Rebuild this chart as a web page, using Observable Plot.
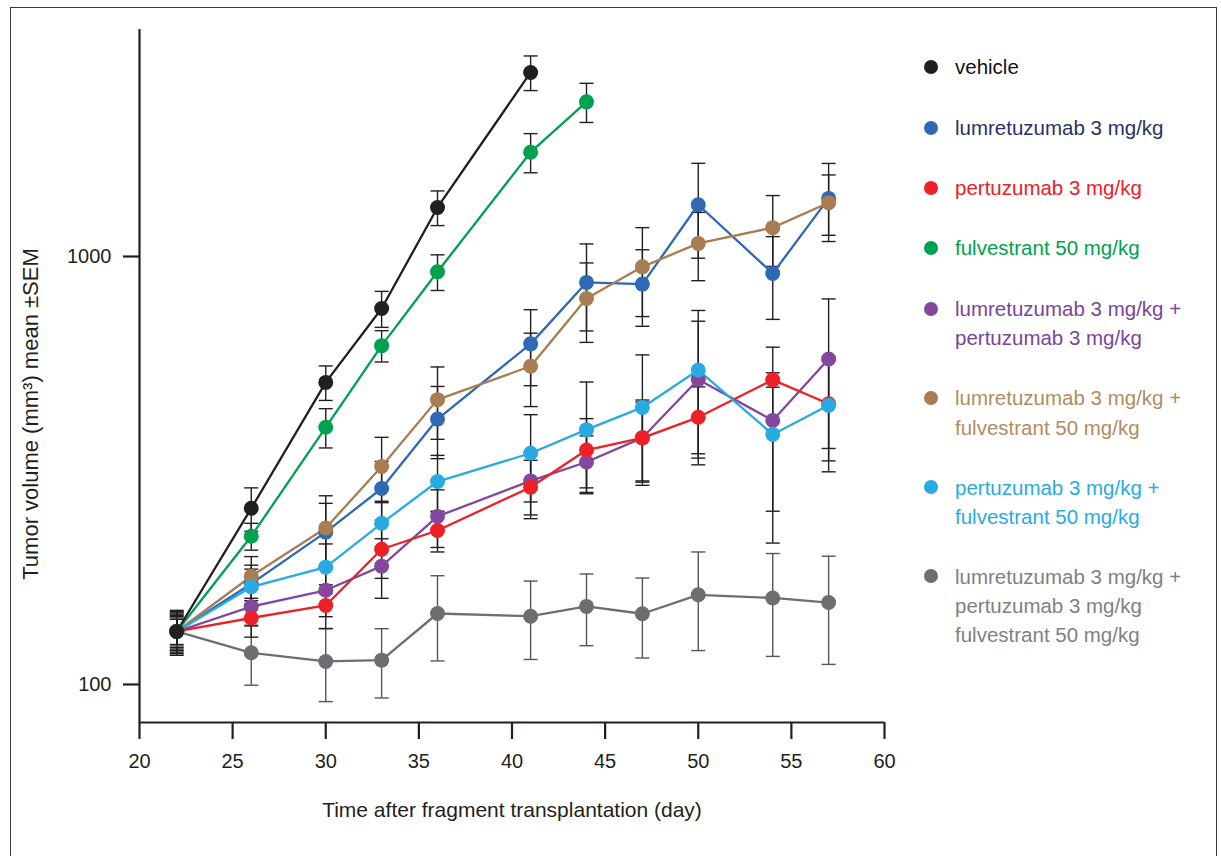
<!DOCTYPE html>
<html><head><meta charset="utf-8">
<script src="https://cdn.jsdelivr.net/npm/d3@7"></script>
<script src="https://cdn.jsdelivr.net/npm/@observablehq/plot@0.6"></script>
<style>
body{margin:0;background:#fff;font-family:"Liberation Sans",Arial,sans-serif;}
#wrap{position:relative;width:1221px;height:856px;overflow:hidden;background:#fff;}
#frame{position:absolute;left:10px;top:7px;width:1207px;height:900px;border:1.6px solid #3a3a3a;box-sizing:border-box;}
#chart{position:absolute;left:0;top:0;}
.item{position:absolute;left:955px;font-size:20.5px;line-height:29.5px;white-space:nowrap;}
.dot{position:absolute;left:923.5px;width:14px;height:14px;border-radius:50%;}
</style></head>
<body><div id="wrap"><div id="frame"></div><div id="chart"></div><div id="legend"></div></div>
<script>
// ---- data ----
const days = [22, 26, 30, 33, 36, 41, 44, 47, 50, 54, 57];
const xTicks = [20, 25, 30, 35, 40, 45, 50, 55, 60];
const yTicks = [100, 1000];

const seriesNames = [
  "vehicle",
  "lumretuzumab 3 mg/kg",
  "pertuzumab 3 mg/kg",
  "fulvestrant 50 mg/kg",
  "lumretuzumab 3 mg/kg + pertuzumab 3 mg/kg",
  "lumretuzumab 3 mg/kg + fulvestrant 50 mg/kg",
  "pertuzumab 3 mg/kg + fulvestrant 50 mg/kg",
  "lumretuzumab 3 mg/kg + pertuzumab 3 mg/kg fulvestrant 50 mg/kg"
];
const legendLines = [
  ["vehicle"],
  ["lumretuzumab 3 mg/kg"],
  ["pertuzumab 3 mg/kg"],
  ["fulvestrant 50 mg/kg"],
  ["lumretuzumab 3 mg/kg +", "pertuzumab 3 mg/kg"],
  ["lumretuzumab 3 mg/kg +", "fulvestrant 50 mg/kg"],
  ["pertuzumab 3 mg/kg +", "fulvestrant 50 mg/kg"],
  ["lumretuzumab 3 mg/kg +", "pertuzumab 3 mg/kg", "fulvestrant 50 mg/kg"]
];

const vehicle      = [133, 258, 508, 756, 1302, 2692];
const vehicleSem   = [14, 30, 47, 73, 121, 250];
const lumre        = [133, 172, 227, 287, 417, 625, 870, 862, 1321, 913, 1367];
const lumreSem     = [15, 18, 38, 45, 80, 126, 200, 175, 330, 200, 283];
const pertu        = [133, 143, 153, 207, 229, 289, 353, 377, 421, 515, 453];
const pertuSem     = [9, 14, 18, 30, 25, 45, 65, 85, 75, 20, 120];
const fulve        = [133, 222, 399, 619, 921, 1753, 2298];
const fulveSem     = [12, 16, 42, 52, 88, 184, 241];
const lumPert      = [133, 152, 166, 189, 247, 299, 331, 377, 516, 414, 576];
const lumPertSem   = [11, 15, 22, 30, 38, 50, 50, 80, 190, 200, 220];
const lumFulv      = [133, 179, 232, 323, 463, 554, 798, 946, 1073, 1168, 1336];
const lumFulvSem   = [16, 20, 44, 55, 89, 108, 168, 222, 195, 220, 215];
const pertFulv     = [133, 169, 188, 238, 298, 347, 394, 444, 543, 384, 449];
const pertFulvSem  = [13, 17, 25, 28, 45, 80, 115, 145, 205, 130, 135];
const triple       = [133, 118.6, 113.2, 114, 146.5, 144.4, 152.2, 146.3, 162, 159.3, 155.4];
const tripleSem    = [10, 19, 22, 21, 33, 30, 29, 31, 42, 43, 44];

const lineColors = ["#231f20", "#2f69b3", "#ed2027", "#00a14e", "#83489d", "#a87d51", "#29abe2", "#6d6e71"];
const textColors = ["#111111", "#27326a", "#ed2027", "#00a14e", "#7b4599", "#b18c62", "#29abe2", "#808184"];
const barColors  = ["#231f20", "#231f20", "#231f20", "#231f20", "#231f20", "#231f20", "#231f20", "#555658"];

const allValues = [vehicle, lumre, pertu, fulve, lumPert, lumFulv, pertFulv, triple];
const allSem = [vehicleSem, lumreSem, pertuSem, fulveSem, lumPertSem, lumFulvSem, pertFulvSem, tripleSem];
// drawing order (last on top)
const drawOrder = [7, 4, 2, 1, 5, 6, 3, 0];

const rows = [];
for (const si of drawOrder) {
  allValues[si].forEach((v, i) => rows.push({
    name: seriesNames[si], day: days[i], v, lo: v - allSem[si][i], hi: v + allSem[si][i], bar: barColors[si]
  }));
}

const cap = {draw(context, size) { const w = Math.sqrt(size / Math.PI); context.moveTo(-w, 0); context.lineTo(w, 0); }};
const yMin = 81.5, yMax = 3392;
const ink = "#231f20";

const chart = Plot.plot({
  width: 1221, height: 856,
  marginLeft: 139, marginRight: 337, marginTop: 29, marginBottom: 134,
  style: {fontFamily: "'Liberation Sans', Arial, sans-serif", color: ink, background: "transparent", overflow: "visible"},
  x: {domain: [20, 60]},
  y: {type: "log", domain: [yMin, yMax]},
  color: {domain: seriesNames, range: lineColors},
  marks: [
    Plot.ruleX(rows, {x: "day", y1: "lo", y2: "hi", stroke: "bar", strokeWidth: 1.4}),
    Plot.dot(rows, {x: "day", y: "hi", symbol: cap, r: 7, stroke: "bar", strokeWidth: 1.4}),
    Plot.dot(rows, {x: "day", y: "lo", symbol: cap, r: 7, stroke: "bar", strokeWidth: 1.4}),
    Plot.line(rows, {x: "day", y: "v", z: "name", stroke: "name", strokeWidth: 2.3}),
    Plot.dot(rows, {x: "day", y: "v", fill: "name", r: 7.5}),
    Plot.ruleX([20], {stroke: ink, strokeWidth: 2.2}),
    Plot.ruleY([yMin], {stroke: ink, strokeWidth: 2.2}),
    Plot.axisX({ticks: xTicks, tickSize: 17, tickPadding: 14, fontSize: 20, tickFormat: d => String(d), strokeWidth: 2.2, label: null}),
    Plot.axisY({ticks: yTicks, tickSize: 16, tickPadding: 12, fontSize: 20, tickFormat: d => String(d), strokeWidth: 2.2, label: null}),
    Plot.text(["Tumor volume (mm³) mean ±SEM"], {frameAnchor: "left", textAnchor: "middle", rotate: -90, dx: -109, dy: 38, fontSize: 22, fill: ink, lineAnchor: "middle"}),
    Plot.text(["Time after fragment transplantation (day)"], {frameAnchor: "bottom", textAnchor: "middle", dy: 88, fontSize: 21, fill: ink, lineAnchor: "middle"})
  ]
});
document.getElementById("chart").appendChild(chart);

// legend (HTML, beside the chart)
const rowCenters = [66.5, 127.7, 188, 248, 308.8, 398, 487.4, 576.4];
const lineGap = 29.4;
const legend = document.getElementById("legend");
seriesNames.forEach((n, i) => {
  const dot = document.createElement("div");
  dot.className = "dot";
  dot.style.top = (rowCenters[i] - 7) + "px";
  dot.style.background = lineColors[i];
  legend.appendChild(dot);
  legendLines[i].forEach((t, j) => {
    const el = document.createElement("div");
    el.className = "item";
    el.textContent = t;
    el.style.color = textColors[i];
    el.style.top = (rowCenters[i] + j * lineGap - 14.75) + "px";
    legend.appendChild(el);
  });
});
</script>
</body></html>
